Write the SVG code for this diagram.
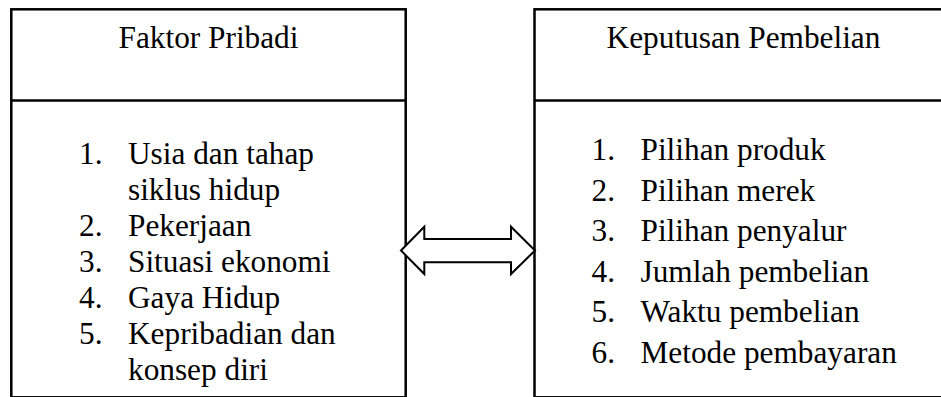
<svg xmlns="http://www.w3.org/2000/svg" width="941" height="397" viewBox="0 0 941 397">
  <style>
    .box { fill: #ffffff; stroke: #000000; stroke-width: 2.5; }
    .rule { stroke: #000000; stroke-width: 2.5; }
    .arrow { fill: #ffffff; stroke: #000000; stroke-width: 2; stroke-linejoin: miter; }
    text { font-family: "Liberation Serif", "Times New Roman", serif; font-size: 31.3px; fill: #000000; }
    .title { text-anchor: middle; }
  </style>
  <rect width="941" height="397" fill="#ffffff"/>

  <!-- Left node: personal factors (single line spacing) -->
  <g id="faktor-pribadi">
    <rect class="box" x="11.3" y="9.3" width="394.4" height="388"/>
    <line class="rule" x1="11.3" y1="100.5" x2="405.7" y2="100.5"/>
    <text class="title" x="208.5" y="48">Faktor Pribadi</text>
    <text x="79" y="164">1.</text><text x="128" y="164">Usia dan tahap</text>
    <text x="128" y="200">siklus hidup</text>
    <text x="79" y="236">2.</text><text x="128" y="236">Pekerjaan</text>
    <text x="79" y="272">3.</text><text x="128" y="272">Situasi ekonomi</text>
    <text x="79" y="308">4.</text><text x="128" y="308">Gaya Hidup</text>
    <text x="79" y="344">5.</text><text x="128" y="344">Kepribadian dan</text>
    <text x="128" y="380">konsep diri</text>
  </g>

  <!-- Right node: purchase decision (1.15 line spacing) -->
  <g id="keputusan-pembelian">
    <rect class="box" x="534.5" y="9.3" width="420" height="388"/>
    <line class="rule" x1="534.5" y1="100.5" x2="954.5" y2="100.5"/>
    <text class="title" x="743.5" y="48">Keputusan Pembelian</text>
    <text x="591.5" y="160">1.</text><text x="640.5" y="160">Pilihan produk</text>
    <text x="591.5" y="200.5">2.</text><text x="640.5" y="200.5">Pilihan merek</text>
    <text x="591.5" y="241">3.</text><text x="640.5" y="241">Pilihan penyalur</text>
    <text x="591.5" y="281.5">4.</text><text x="640.5" y="281.5">Jumlah pembelian</text>
    <text x="591.5" y="322">5.</text><text x="640.5" y="322">Waktu pembelian</text>
    <text x="591.5" y="362.5">6.</text><text x="640.5" y="362.5">Metode pembayaran</text>
  </g>

  <!-- Connector: two-way block arrow -->
  <g id="connectors">
    <polygon class="arrow" points="401,250.5 424.3,226.7 424.3,239 511,239 511,226.7 535,250.5 511,274 511,262.3 424.3,262.3 424.3,274"/>
  </g>
</svg>
